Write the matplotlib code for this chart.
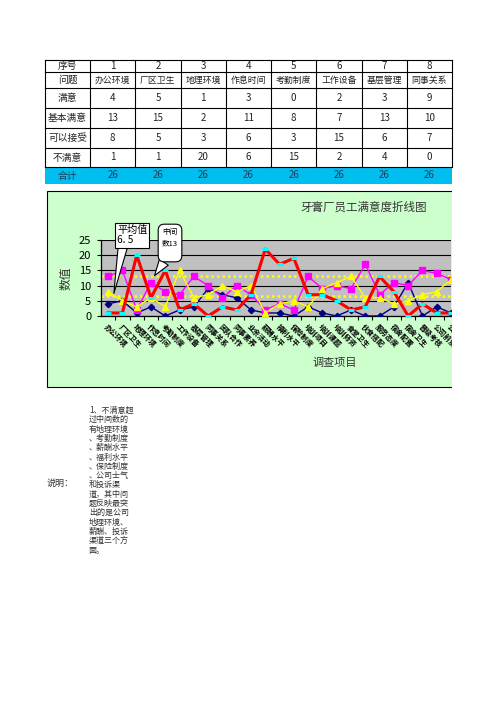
import numpy as np
import matplotlib
matplotlib.use('Agg')
import matplotlib.pyplot as plt
from matplotlib.patches import Rectangle

plt.rcParams['font.family'] = ['Noto Sans CJK SC', 'DejaVu Sans']

# ---------------------------------------------------------------------
# data read off the sheet / chart
# ---------------------------------------------------------------------
items = ['办公环境', '厂区卫生', '地理环境', '作息时间', '考勤制度', '工作设备',
         '基层管理', '同事关系', '团队合作', '同事素养', '业余活动', '薪酬水平',
         '福利水平', '保险制度', '培训项目', '培训课题', '培训师资', '食堂卫生',
         '伙食搭配', '服务态度', '宿舍配置', '宿舍卫生', '晋级考核', '公司前景',
         '公司士气']
satisfied = [4, 5, 1, 3, 0, 2, 3, 9, 7, 6, 2, 1, 1, 0, 3, 1, 0, 2, 0, 0, 3, 11, 0, 3, 1]
basic = [13, 15, 2, 11, 8, 7, 13, 10, 6, 10, 7, 2, 4, 2, 13, 9, 10, 9, 17, 7, 11, 10, 15, 14, 12]
acceptable = [8, 5, 3, 6, 3, 15, 6, 7, 10, 8, 10, 1, 4, 5, 3, 9, 11, 13, 6, 6, 4, 5, 7, 8, 12]
unsatisfied = [1, 1, 20, 6, 15, 2, 4, 0, 3, 2, 7, 22, 17, 19, 7, 7, 5, 2, 3, 13, 8, 0, 4, 1, 1]
row_names = ['满意', '基本满意', '可以接受', '不满意']
avg_value = 6.5
median_value = 13
n_table = 8

title = '牙膏厂员工满意度折线图'
note_lines = ['1、不满意超', '过中间数的', '有地理环境', '、考勤制度', '、薪酬水平',
              '、福利水平', '、保险制度', '、公司士气', '和投诉渠', '道，其中问',
              '题反映最突', '出的是公司', '地理环境、', '薪酬、投诉', '渠道三个方', '面。']

W, H = 496, 702
fig = plt.figure(figsize=(W / 100, H / 100), dpi=100)

# background layer in pixel coordinates (table, chart area, notes)
bg = fig.add_axes([0, 0, 1, 1], zorder=0)
bg.set_xlim(0, W)
bg.set_ylim(H, 0)
bg.axis('off')

# ---------------------------------------------------------------------
# table
# ---------------------------------------------------------------------
row_y = [60, 72, 88, 108, 128, 148, 167, 184]
col_x = [45, 90] + [90 + 45.25 * (i + 1) for i in range(n_table)]
txt_col = '#222222'

bg.add_patch(Rectangle((col_x[0], row_y[6]), col_x[-1] - col_x[0], row_y[7] - row_y[6],
                       fc='#00BEEF', ec='none'))
for y in row_y[:7]:
    bg.plot([col_x[0], col_x[-1]], [y, y], color='k', lw=0.8)
for xx in col_x:
    bg.plot([xx, xx], [row_y[0], row_y[6]], color='k', lw=0.8)

series = [satisfied, basic, acceptable, unsatisfied]
totals = [sum(v[i] for v in series) for i in range(n_table)]
rows = [('序号', [str(i + 1) for i in range(n_table)], 7, txt_col),
        ('问题', items[:n_table], 6.4, txt_col)]
for name, vals in zip(row_names, series):
    rows.append((name, [str(v) for v in vals[:n_table]], 7, txt_col))
rows.append(('合计', [str(t) for t in totals], 7, '#1E3C5A'))

for r, (head, cells, fs, c) in enumerate(rows):
    yc = (row_y[r] + row_y[r + 1]) / 2
    bg.text((col_x[0] + col_x[1]) / 2, yc, head, ha='center', va='center', fontsize=7, color=c)
    for j, cell in enumerate(cells):
        bg.text((col_x[j + 1] + col_x[j + 2]) / 2, yc, cell, ha='center', va='center',
                fontsize=fs, color=c)

# ---------------------------------------------------------------------
# chart area
# ---------------------------------------------------------------------
bg.add_patch(Rectangle((47, 191), 420, 196, fc='#CCFFCC', ec='k', lw=0.8))
bg.text(364, 207, title, ha='center', va='center', fontsize=8.3, color='#333333')
bg.text(335, 363, '调查项目', ha='center', va='center', fontsize=8, color='#333333')
bg.text(66, 278, '数值', ha='center', va='center', rotation=90, fontsize=8.5, color='#333333')

ax = fig.add_axes([101 / W, 1 - 316 / H, 350 / W, 76 / H], zorder=1)
ax.set_facecolor('#C0C0C0')
x = np.arange(len(items))

ax.plot(x, satisfied, color='#000080', lw=1.0, marker='D', ms=3.2, zorder=3)
ax.plot(x, basic, color='#FF00FF', lw=1.0, marker='s', ms=4.3, zorder=3)
ax.plot(x, acceptable, color='#FFFF00', lw=1.0, marker='^', ms=4.0, zorder=3)
ax.plot(x, unsatisfied, color='#FF0000', lw=2.2, marker='_', ms=5, mew=2.2,
        mec='#00FFFF', zorder=4)

ax.axhline(avg_value, color='#FFFF00', lw=1.8, ls=(0, (1, 1.2)), zorder=2)
ax.axhline(median_value, color='#FFFF00', lw=1.8, ls=(0, (1, 1.2)), zorder=2)

ax.set_xlim(-0.5, 23.3)
ax.set_ylim(0, 25)
ax.set_yticks(np.arange(0, 26, 5))
ax.yaxis.grid(True, color='k', lw=0.8)
ax.set_axisbelow(True)

ax.set_xticks(x)
ax.set_xticklabels(items, rotation=-45, ha='left', va='top', rotation_mode='anchor',
                   fontsize=5.2, fontweight='bold')
ax.set_xticks(x[:-1] + 0.5, minor=True)
ax.tick_params(axis='x', which='major', length=0, pad=5)
ax.tick_params(axis='x', which='minor', length=3, width=0.8)
ax.tick_params(axis='y', length=3, width=0.8, labelsize=8, pad=4)
for s in ['top', 'right']:
    ax.spines[s].set_visible(False)
for s in ['left', 'bottom']:
    ax.spines[s].set_linewidth(0.9)

# callouts
ax.annotate('平均值\n6. 5', xy=(0.4, avg_value + 0.9), xycoords='data',
            xytext=(117, H - 225), textcoords='figure pixels', ha='left', va='top',
            fontsize=7.3, linespacing=1.05,
            bbox=dict(boxstyle='square,pad=0.2', fc='white', ec='k', lw=0.8),
            arrowprops=dict(arrowstyle='wedge,tail_width=0.9', fc='white', ec='k', lw=0.8,
                            relpos=(0.2, 0.0), shrinkA=0, shrinkB=0),
            annotation_clip=False, zorder=6)
ax.annotate('中间\n数13\n', xy=(3.25, median_value + 0.3), xycoords='data',
            xytext=(162, H - 228), textcoords='figure pixels', ha='left', va='top',
            fontsize=5.5, linespacing=1.5,
            bbox=dict(boxstyle='round,pad=0.5,rounding_size=0.8', fc='white', ec='k', lw=0.8),
            arrowprops=dict(arrowstyle='wedge,tail_width=1.4', fc='white', ec='k', lw=0.8,
                            relpos=(0.3, 0.0), shrinkA=0, shrinkB=0),
            annotation_clip=False, zorder=6)

# ---------------------------------------------------------------------
# notes
# ---------------------------------------------------------------------
bg.text(47, 483, '说明：', ha='left', va='center', fontsize=6.5, color='#333333')
for i, line in enumerate(note_lines):
    bg.text(89, 410.5 + i * 9.3, line, ha='left', va='center', fontsize=5.8, color='#333333')

# the sheet is cut off at the right edge
cover = fig.add_axes([0, 0, 1, 1], zorder=10)
cover.set_xlim(0, W)
cover.set_ylim(H, 0)
cover.axis('off')
cover.add_patch(Rectangle((451.5, 186), 50, 206, fc='white', ec='none'))

fig.savefig('out.png', dpi=100)
